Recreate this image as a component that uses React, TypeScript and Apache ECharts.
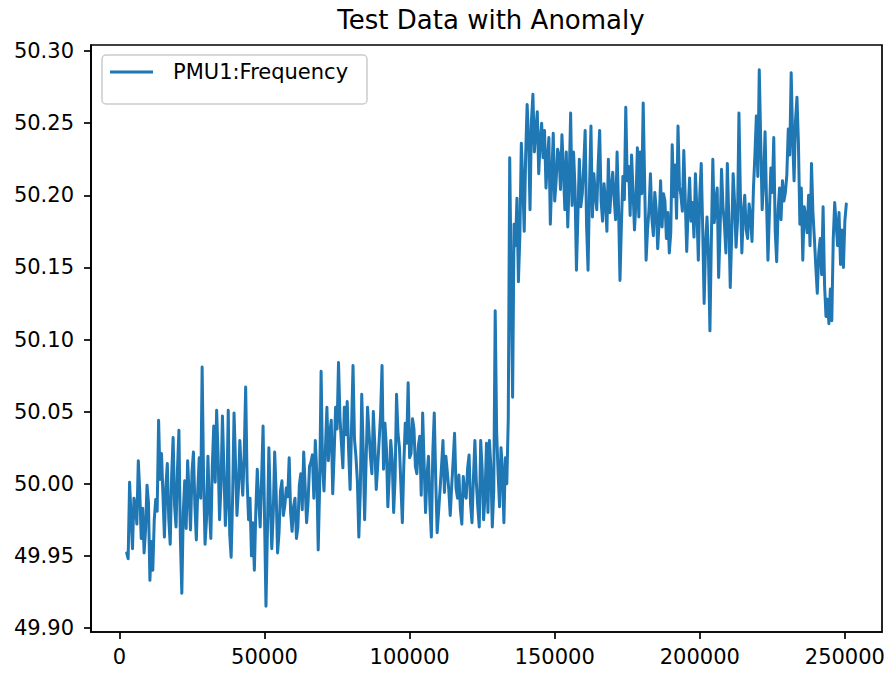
import React, { useEffect, useRef } from "react";
import * as echarts from "echarts";

const chartTitle = "Test Data with Anomaly";
const seriesName = "PMU1:Frequency";
const sampleStart = 2500;
const sampleStep = 500;
const xTicks = [0, 50000, 100000, 150000, 200000, 250000];
const yTicks = [49.9, 49.95, 50.0, 50.05, 50.1, 50.15, 50.2, 50.25, 50.3];

const freqEarly = [
  49.952, 49.948, 50.001, 49.978, 49.955, 49.990, 49.985, 49.972, 50.016, 49.995,
  49.962, 49.983, 49.952, 49.968, 49.999, 49.987, 49.933, 49.960, 49.940, 49.975,
  49.989, 49.981, 50.044, 50.003, 50.021, 49.992, 49.963, 49.998, 50.014, 49.976,
  49.958, 50.006, 50.032, 49.985, 49.970, 50.010, 50.037, 49.962, 49.924, 49.980,
  50.002, 49.969, 50.016, 49.993, 49.968, 50.008, 50.022, 49.985, 49.961, 49.996,
  50.018, 49.990, 50.081, 50.004, 49.958, 49.975, 50.019, 49.983, 49.962, 50.012,
  50.040, 50.001, 50.051, 50.020, 49.975, 49.999, 50.047, 50.010, 49.971, 49.989,
  50.051, 49.965, 49.949, 49.990, 50.049, 50.015, 49.978, 49.996, 50.030, 50.008,
  49.992, 50.020, 50.067, 50.002, 49.975, 49.990, 49.950, 49.973, 49.940, 49.981,
  50.010, 49.988, 49.970, 50.004, 50.040, 49.977, 49.915, 49.968, 50.025, 49.986,
  49.955, 49.979, 50.022, 49.994, 49.952, 49.966, 49.995, 50.002, 49.978, 49.985,
  49.997, 49.991, 50.018, 49.980, 49.967, 49.984, 49.990, 49.962, 49.970, 49.999,
  50.007, 49.982, 50.022, 49.998, 49.973, 49.987, 50.012, 50.015,
];

const freqMiddle = [
  50.020, 49.990, 50.030, 50.008, 49.954, 49.998, 50.078, 50.012, 49.995, 50.025,
  50.053, 50.016, 50.035, 50.044, 49.993, 50.021, 50.053, 50.038, 50.084, 50.046,
  50.028, 50.011, 50.053, 50.034, 50.057, 50.022, 49.996, 50.040, 50.082, 50.031,
  50.019, 50.002, 49.963, 49.994, 50.062, 50.024, 49.975, 50.015, 50.053, 50.036,
  50.019, 50.007, 50.050, 50.027, 49.996, 50.012, 50.030, 50.048, 50.082, 50.010,
  50.042, 50.025, 49.984, 50.006, 50.030, 50.017, 49.980, 50.004, 50.062, 50.035,
  50.025, 49.999, 49.973, 50.013, 50.042, 50.028, 50.070, 50.018, 50.021, 50.045,
  50.038, 50.012, 50.007, 50.026, 50.033, 49.992, 50.049, 50.014, 49.980, 50.006,
  50.019, 49.985, 49.963, 50.022, 50.049, 50.003, 49.966, 49.981, 49.996, 50.012,
  50.030, 49.994, 50.019, 50.008, 49.996, 49.978, 49.998, 50.016, 50.035, 49.997,
  49.990, 50.006, 49.982, 49.972, 50.005, 49.993, 49.990, 50.011, 50.020, 49.986,
  49.973, 50.004, 50.030, 50.001, 49.984, 49.970, 50.030, 50.010, 49.975, 49.992,
  50.028, 49.980, 50.030, 50.012, 49.970, 49.995, 50.120, 50.036, 50.007, 49.984,
  50.025, 50.008, 49.973, 50.018, 50.000, 50.045,
];

const freqAnomaly = [
  50.226, 50.140, 50.060, 50.180, 50.165, 50.198, 50.140, 50.172, 50.236, 50.210,
  50.175, 50.228, 50.263, 50.240, 50.190, 50.252, 50.270, 50.230, 50.245, 50.258,
  50.215, 50.238, 50.250, 50.226, 50.245, 50.205, 50.225, 50.240, 50.180, 50.212,
  50.243, 50.196, 50.210, 50.232, 50.228, 50.204, 50.242, 50.218, 50.190, 50.230,
  50.178, 50.211, 50.257, 50.193, 50.230, 50.205, 50.148, 50.186, 50.225, 50.192,
  50.201, 50.220, 50.245, 50.178, 50.148, 50.205, 50.248, 50.185, 50.215, 50.200,
  50.190, 50.222, 50.245, 50.196, 50.182, 50.208, 50.196, 50.175, 50.225, 50.188,
  50.205, 50.216, 50.198, 50.183, 50.230, 50.192, 50.141, 50.180, 50.213, 50.197,
  50.261, 50.210, 50.220, 50.186, 50.228, 50.203, 50.176, 50.195, 50.233, 50.185,
  50.230, 50.201, 50.264, 50.209, 50.155, 50.176, 50.190, 50.215, 50.184, 50.172,
  50.202, 50.190, 50.163, 50.182, 50.210, 50.178, 50.201, 50.196, 50.170, 50.188,
  50.160, 50.174, 50.235, 50.199, 50.221, 50.184, 50.248, 50.206,
];

const freqLate = [
  50.200, 50.189, 50.231, 50.197, 50.161, 50.190, 50.212, 50.182, 50.195, 50.171,
  50.215, 50.190, 50.155, 50.200, 50.222, 50.178, 50.125, 50.166, 50.185, 50.158,
  50.106, 50.170, 50.225, 50.181, 50.195, 50.205, 50.143, 50.176, 50.218, 50.192,
  50.180, 50.160, 50.222, 50.184, 50.136, 50.172, 50.215, 50.195, 50.164, 50.182,
  50.257, 50.200, 50.160, 50.188, 50.200, 50.176, 50.170, 50.194, 50.185, 50.168,
  50.205, 50.228, 50.255, 50.213, 50.287, 50.238, 50.190, 50.210, 50.244, 50.196,
  50.155, 50.188, 50.219, 50.202, 50.240, 50.175, 50.154, 50.190, 50.205, 50.183,
  50.210, 50.196, 50.202, 50.214, 50.246, 50.228, 50.285, 50.240, 50.210, 50.252,
  50.268, 50.236, 50.180, 50.205, 50.155, 50.192, 50.185, 50.174, 50.200, 50.165,
  50.222, 50.188, 50.170, 50.150, 50.132, 50.160, 50.170, 50.145, 50.192, 50.138,
  50.116, 50.128, 50.111, 50.135, 50.113, 50.170, 50.195, 50.180, 50.165, 50.188,
  50.152, 50.176, 50.150, 50.182, 50.194,
];

const FONT = "DejaVu Sans";

export default function App() {
  const ref = useRef<HTMLDivElement>(null);
  useEffect(() => {
    if (!ref.current) return;
    const chart = echarts.init(ref.current, null, { renderer: "svg" });
    const values = [...freqEarly, ...freqMiddle, ...freqAnomaly, ...freqLate];
    const data = values.map((v, i) => [sampleStart + i * sampleStep, v]);
    const axisLine = { show: true, onZero: false, lineStyle: { color: "#000", width: 1.7 } };
    chart.setOption({
      animation: false,
      backgroundColor: "#fff",
      title: {
        text: chartTitle,
        left: 486,
        textAlign: "center",
        top: 2,
        textStyle: { fontFamily: FONT, fontSize: 26, fontWeight: "normal", color: "#000" },
      },
      grid: {
        left: 91,
        right: 8,
        top: 45,
        bottom: 43,
        show: true,
        borderColor: "#000",
        borderWidth: 1.7,
        backgroundColor: "transparent",
      },
      xAxis: {
        type: "value",
        min: -9800,
        max: 262800,
        axisLine,
        splitLine: { show: false },
        axisTick: { show: true, customValues: xTicks, length: 7, lineStyle: { color: "#000", width: 1.7 } },
        axisLabel: {
          customValues: xTicks,
          fontFamily: FONT,
          fontSize: 21,
          color: "#000",
          margin: 14,
          formatter: (v: number) => String(v),
        },
      },
      yAxis: {
        type: "value",
        min: 49.8972,
        max: 50.3042,
        axisLine,
        splitLine: { show: false },
        axisTick: { show: true, customValues: yTicks, length: 7, lineStyle: { color: "#000", width: 1.7 } },
        axisLabel: {
          customValues: yTicks,
          fontFamily: FONT,
          fontSize: 21,
          color: "#000",
          margin: 17,
          formatter: (v: number) => v.toFixed(2),
        },
      },
      series: [
        {
          name: seriesName,
          type: "line",
          data,
          showSymbol: false,
          symbol: "none",
          lineStyle: { color: "#1f77b4", width: 3, join: "round", cap: "round" },
          z: 2,
        },
      ],
      graphic: [
        {
          type: "group",
          z: 100,
          children: [
            {
              type: "rect",
              shape: { x: 102, y: 55, width: 265, height: 49, r: 4 },
              style: { fill: "rgba(255,255,255,0.8)", stroke: "#cccccc", lineWidth: 1.5 },
            },
            {
              type: "line",
              shape: { x1: 110, y1: 72, x2: 153, y2: 72 },
              style: { stroke: "#1f77b4", lineWidth: 3 },
            },
            {
              type: "text",
              x: 173,
              y: 72,
              style: {
                text: seriesName,
                fontFamily: FONT,
                fontSize: 21,
                fill: "#000",
                verticalAlign: "middle",
                align: "left",
              },
            },
          ],
        },
      ],
    });
    return () => chart.dispose();
  }, []);
  return (
    <div
      ref={ref}
      style={{ position: "fixed", left: 0, top: 0, width: 890, height: 675, background: "#fff" }}
    />
  );
}
